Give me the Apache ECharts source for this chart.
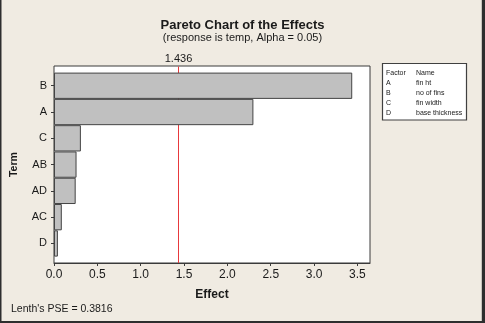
<!DOCTYPE html>
<html>
<head>
<meta charset="utf-8">
<script src="https://cdn.jsdelivr.net/npm/echarts@6/dist/echarts.min.js"></script>
<style>
html,body{margin:0;padding:0;background:#F0EBE2;}
#c{width:485px;height:323px;}
</style>
</head>
<body>
<div id="c"></div>
<script>
var terms = ['B', 'A', 'C', 'AB', 'AD', 'AC', 'D'];
var effects = [3.44, 2.30, 0.31, 0.26, 0.25, 0.09, 0.045];
var threshold = 1.436;
var xTicks = [0, 0.5, 1.0, 1.5, 2.0, 2.5, 3.0, 3.5];
var xMax = 3.645;
var factors = ['A', 'B', 'C', 'D'];
var factorNames = ['fin ht', 'no of fins', 'fin width', 'base thickness'];
var pse = 0.3816;

var FONT = 'Liberation Sans';
var TXT = '#1a1a1a';
var FRAME = '#3a3a3a';

var legendGraphics = [
  {type:'rect', shape:{x:382.5, y:63.5, width:84, height:56.5}, style:{fill:'#fff', stroke:'#404040', lineWidth:1.2}},
  {type:'text', x:386, y:72.7, style:{text:'Factor', font:'7px ' + FONT, fill:TXT, verticalAlign:'middle'}},
  {type:'text', x:416, y:72.7, style:{text:'Name', font:'7px ' + FONT, fill:TXT, verticalAlign:'middle'}}
];
factors.forEach(function(f, i){
  legendGraphics.push({type:'text', x:386, y:82.7 + i*10, style:{text:f, font:'7px ' + FONT, fill:TXT, verticalAlign:'middle'}});
  legendGraphics.push({type:'text', x:416, y:82.7 + i*10, style:{text:factorNames[i], font:'7px ' + FONT, fill:TXT, verticalAlign:'middle'}});
});
legendGraphics.push({type:'text', x:11, y:308.7, style:{text:"Lenth's PSE = " + pse, font:'10.5px ' + FONT, fill:TXT, verticalAlign:'middle'}});
legendGraphics.push({type:'rect', shape:{x:0, y:0, width:1.5, height:323}, style:{fill:'#2e2e2e'}});
legendGraphics.push({type:'rect', shape:{x:481, y:0, width:1, height:321}, style:{fill:'#c8c4bc'}});
legendGraphics.push({type:'rect', shape:{x:482, y:0, width:3, height:323}, style:{fill:'#2e2e2e'}});
legendGraphics.push({type:'rect', shape:{x:0, y:321, width:485, height:2}, style:{fill:'#2e2e2e'}});

var chart = echarts.init(document.getElementById('c'), null, {renderer:'canvas'});
chart.setOption({
  backgroundColor:'#F0EBE2',
  animation:false,
  textStyle:{fontFamily:FONT},
  title:{
    text:'Pareto Chart of the Effects',
    subtext:'(response is temp, Alpha = 0.05)',
    left:'center', top:14, itemGap:0,
    textStyle:{fontFamily:FONT, fontSize:13, fontWeight:'bold', color:TXT},
    subtextStyle:{fontFamily:FONT, fontSize:11, color:TXT}
  },
  grid:[
    {left:54, top:66, width:316, height:197, show:true, backgroundColor:'#fff', borderColor:FRAME, borderWidth:1, containLabel:false},
    {left:54, top:72.6, width:316, height:184, containLabel:false}
  ],
  xAxis:[
    {type:'value', gridIndex:0, min:0, max:xMax, name:'Effect', nameLocation:'middle', nameGap:26,
     nameTextStyle:{fontFamily:FONT, fontSize:12, fontWeight:'bold', color:TXT},
     axisLine:{show:true, lineStyle:{color:FRAME}},
     axisTick:{show:true, length:3, customValues:xTicks, lineStyle:{color:FRAME}},
     axisLabel:{customValues:xTicks, formatter:function(v){return v.toFixed(1);}, fontFamily:FONT, fontSize:12, color:TXT, margin:6},
     splitLine:{show:false}},
    {type:'value', gridIndex:1, min:0, max:xMax, show:false}
  ],
  yAxis:[
    {type:'value', gridIndex:0, min:0, max:1, show:false},
    {type:'category', gridIndex:1, data:terms, inverse:true, name:'Term', nameLocation:'middle', nameGap:34, nameRotate:90,
     nameTextStyle:{fontFamily:FONT, fontSize:10.5, fontWeight:'bold', color:TXT},
     axisLine:{show:false},
     axisTick:{show:true, alignWithLabel:true, length:3, lineStyle:{color:FRAME}},
     axisLabel:{fontFamily:FONT, fontSize:11, color:TXT, margin:7},
     splitLine:{show:false}}
  ],
  series:[
    {type:'custom', xAxisIndex:0, yAxisIndex:0, z:1, silent:true, clip:false,
     data:[[threshold]],
     renderItem:function(params, api){
       var x = api.value(0);
       var p0 = api.coord([x, 0]);
       var p1 = api.coord([x, 1]);
       var px = Math.round(p0[0]) + 0.5;
       return {type:'group', children:[
         {type:'line', shape:{x1:px, y1:p0[1], x2:px, y2:p1[1] + 0.5}, style:{stroke:'#e8393c', lineWidth:1}},
         {type:'text', x:p0[0], y:p1[1] - 7.5, style:{text:String(x), font:'11px ' + FONT, fill:TXT, align:'center', verticalAlign:'middle'}}
       ]};
     }},
    {type:'bar', xAxisIndex:1, yAxisIndex:1, data:effects, barCategoryGap:0, z:3,
     itemStyle:{color:'#C0C0C0', borderColor:'#444', borderWidth:1}}
  ],
  graphic:legendGraphics
});
</script>
</body>
</html>
